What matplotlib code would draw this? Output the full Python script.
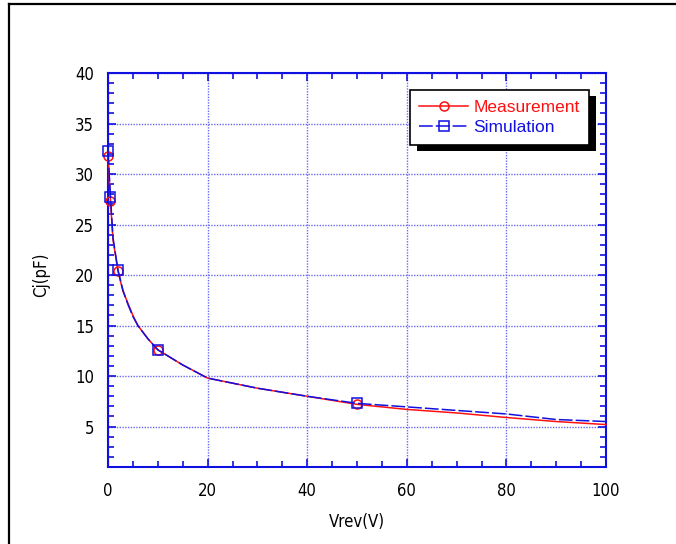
import numpy as np
import matplotlib.pyplot as plt
from matplotlib import font_manager
from matplotlib.ticker import MultipleLocator
from matplotlib.patches import Rectangle
from matplotlib.lines import Line2D

# data
vrev = [0, 0.5, 1, 2, 3, 4, 5, 6, 8, 10, 15, 20, 30, 40, 50, 60, 70, 80, 90, 100]
cj_meas = [31.8, 27.3, 23.5, 20.4, 18.4, 17.2, 16.0, 15.0, 13.7, 12.6,
           11.1, 9.8, 8.8, 8.0, 7.2, 6.7, 6.35, 5.9, 5.5, 5.2]
cj_sim = [32.3, 27.7, 23.7, 20.5, 18.5, 17.1, 15.9, 15.0, 13.7, 12.6,
          11.1, 9.8, 8.8, 8.0, 7.3, 6.95, 6.6, 6.25, 5.7, 5.5]
mark_idx = [0, 1, 3, 9, 14]

RED = '#ff1010'
BLUE = '#1010e0'
GRID = '#6a6af0'

plt.rcParams['font.family'] = ['Liberation Sans', 'DejaVu Sans']

# narrow font for axis texts if one is installed
narrow = None
for f in font_manager.fontManager.ttflist:
    if 'Narrow' in f.name or (f.stretch == 'condensed' and f.style == 'normal'
                              and f.weight in (400, 'normal')):
        narrow = font_manager.FontProperties(fname=f.fname)
        break
if narrow is None:
    narrow = font_manager.FontProperties(family='Liberation Sans')

fig = plt.figure(figsize=(6.76, 5.44), dpi=100)
W, H = 676.0, 544.0

# outer frame (only top/left visible in reference)
fig.add_artist(Line2D([9 / W, 9 / W], [0, 1 - 4 / H], color='black', lw=1.6,
                      transform=fig.transFigure))
fig.add_artist(Line2D([9 / W, 1], [1 - 4 / H, 1 - 4 / H], color='black', lw=1.6,
                      transform=fig.transFigure))

ax = fig.add_axes([108 / W, 1 - 467 / H, 498 / W, 394 / H])

ax.plot(vrev, cj_meas, color=RED, lw=1.1, marker='o', markersize=6.5,
        markerfacecolor='none', markeredgecolor=RED, markeredgewidth=1.1,
        markevery=mark_idx, label='Measurement', zorder=3, clip_on=False)
ax.plot(vrev, cj_sim, color=BLUE, lw=1.1, marker='s', markersize=7,
        markerfacecolor='none', markeredgecolor=BLUE, markeredgewidth=1.1,
        markevery=mark_idx, dashes=(9, 2), label='Simulation', zorder=4, clip_on=False)

ax.set_xlim(0, 100)
ax.set_ylim(1, 40)
ax.xaxis.set_major_locator(MultipleLocator(20))
ax.xaxis.set_minor_locator(MultipleLocator(5))
ax.yaxis.set_major_locator(MultipleLocator(5))
ax.yaxis.set_minor_locator(MultipleLocator(1))
ax.set_yticks([5, 10, 15, 20, 25, 30, 35, 40])

for s in ax.spines.values():
    s.set_color(BLUE)
    s.set_linewidth(1.5)
ax.tick_params(which='both', direction='in', colors=BLUE, labelcolor='black',
               top=True, right=True, width=1.2)
ax.tick_params(which='major', length=6)
ax.tick_params(which='minor', length=4.5)
ax.tick_params(axis='x', pad=11)
ax.tick_params(axis='y', pad=10)
for t in ax.get_xticklabels() + ax.get_yticklabels():
    t.set_fontproperties(narrow)
    t.set_fontsize(12)
ax.grid(True, which='major', color=GRID, lw=1.0, linestyle=(0, (1, 1)))

ax.set_xlabel('Vrev(V)', fontproperties=narrow, fontsize=12, labelpad=9)
ax.set_ylabel('Cj(pF)', fontproperties=narrow, fontsize=12)
ax.yaxis.set_label_coords(-0.116, 0.487)

leg = ax.legend(loc='upper right', bbox_to_anchor=(0.966, 0.957), borderaxespad=0,
                frameon=True, fancybox=False, handlelength=2.8, framealpha=1,
                handletextpad=0.3, borderpad=0.55, labelspacing=0.3,
                labelcolor=[RED, BLUE], prop={'family': 'Liberation Sans', 'size': 12.5})
leg.get_frame().set_edgecolor('black')
leg.get_frame().set_facecolor('white')
leg.get_frame().set_linewidth(1.2)
leg.set_zorder(10)

# hard black shadow behind the legend box
fig.canvas.draw()
bb = leg.get_window_extent()
sh = Rectangle((bb.x0 + 7, bb.y0 - 6), bb.width, bb.height, facecolor='black',
               edgecolor='none', transform=None, zorder=9)
ax.add_artist(sh)

fig.savefig('out.png', dpi=100)
